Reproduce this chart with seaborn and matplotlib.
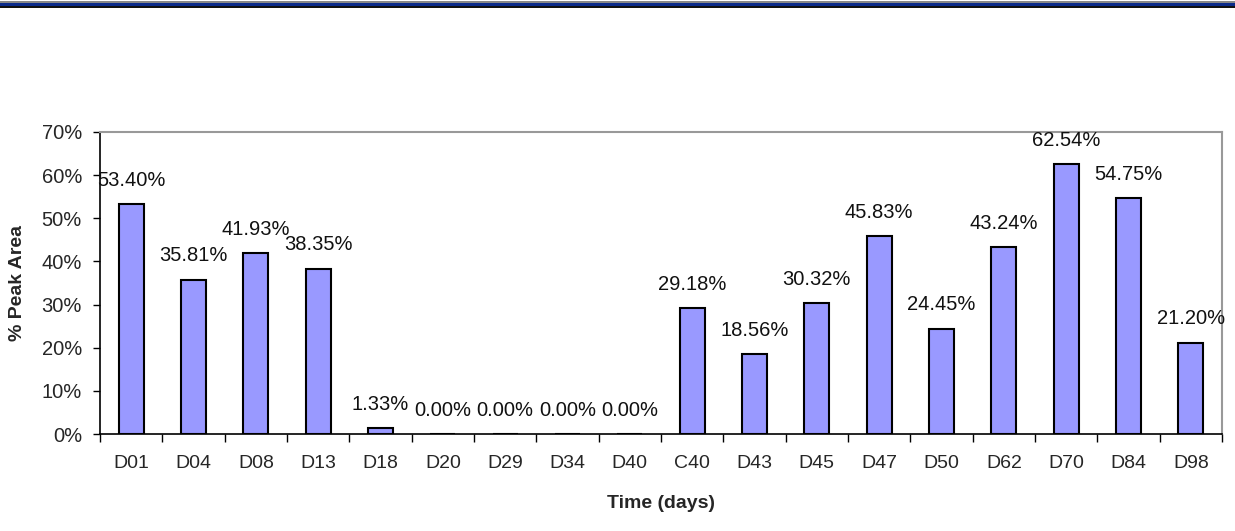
import matplotlib
matplotlib.use("Agg")
import matplotlib.pyplot as plt
import matplotlib.patches as mpatches
import numpy as np
import pandas as pd
import seaborn as sns

days = ["D01", "D04", "D08", "D13", "D18", "D20", "D29", "D34", "D40",
        "C40", "D43", "D45", "D47", "D50", "D62", "D70", "D84", "D98"]
peak_area = [53.40, 35.81, 41.93, 38.35, 1.33, 0.00, 0.00, 0.00, 0.00,
             29.18, 18.56, 30.32, 45.83, 24.45, 43.24, 62.54, 54.75, 21.20]
y_ticks = [0, 10, 20, 30, 40, 50, 60, 70]

sns.set_style("ticks")
plt.rcParams["font.family"] = ["Liberation Sans", "DejaVu Sans"]

W, H = 1235, 531
fig = plt.figure(figsize=(W / 100, H / 100), dpi=100)
ax = fig.add_axes([100 / W, 1 - 434 / H, 1122 / W, 302 / H])

df = pd.DataFrame({"day": days, "value": peak_area})
sns.barplot(data=df, x="day", y="value", color="#9999FF", saturation=1,
            width=0.4, edgecolor="black", linewidth=1.5, ax=ax)

for i, v in enumerate(peak_area):
    ax.annotate(f"{v:.2f}%", (i, v), xytext=(0, 17), textcoords="offset points",
                ha="center", va="center", fontsize=14.5, color="#111111")

ax.set_xlim(-0.5, len(days) - 0.5)
ax.set_ylim(0, 70)
ax.set_yticks(y_ticks)
ax.set_yticklabels([f"{t}%" for t in y_ticks])
ax.set_xticks(np.arange(len(days) + 1) - 0.5, minor=True)
ax.tick_params(axis="x", which="major", length=0, pad=15, labelsize=14)
ax.tick_params(axis="x", which="minor", length=6, width=1, color="black", direction="out")
ax.tick_params(axis="y", length=5, width=1, color="black", pad=8, labelsize=14.5)

ax.set_xlabel("Time (days)", fontsize=14, fontweight="bold", labelpad=17)
ax.set_ylabel("% Peak Area", fontsize=14, fontweight="bold", labelpad=11)

for side in ["left", "bottom"]:
    ax.spines[side].set_color("black")
    ax.spines[side].set_linewidth(1.2)
for side in ["top", "right"]:
    ax.spines[side].set_visible(True)
    ax.spines[side].set_color("#999999")
    ax.spines[side].set_linewidth(1.5)

# header band across the top of the slide
fig.add_artist(mpatches.Rectangle((0, 1 - 3 / H), 1, 1.5 / H, transform=fig.transFigure,
                                  color="#888888", lw=0))
fig.add_artist(mpatches.Rectangle((0, 1 - 6.5 / H), 1, 3.5 / H, transform=fig.transFigure,
                                  color="#0A2A8A", lw=0))
fig.add_artist(mpatches.Rectangle((0, 1 - 8 / H), 1, 1.5 / H, transform=fig.transFigure,
                                  color="#111111", lw=0))

fig.savefig("out.png", dpi=100)
